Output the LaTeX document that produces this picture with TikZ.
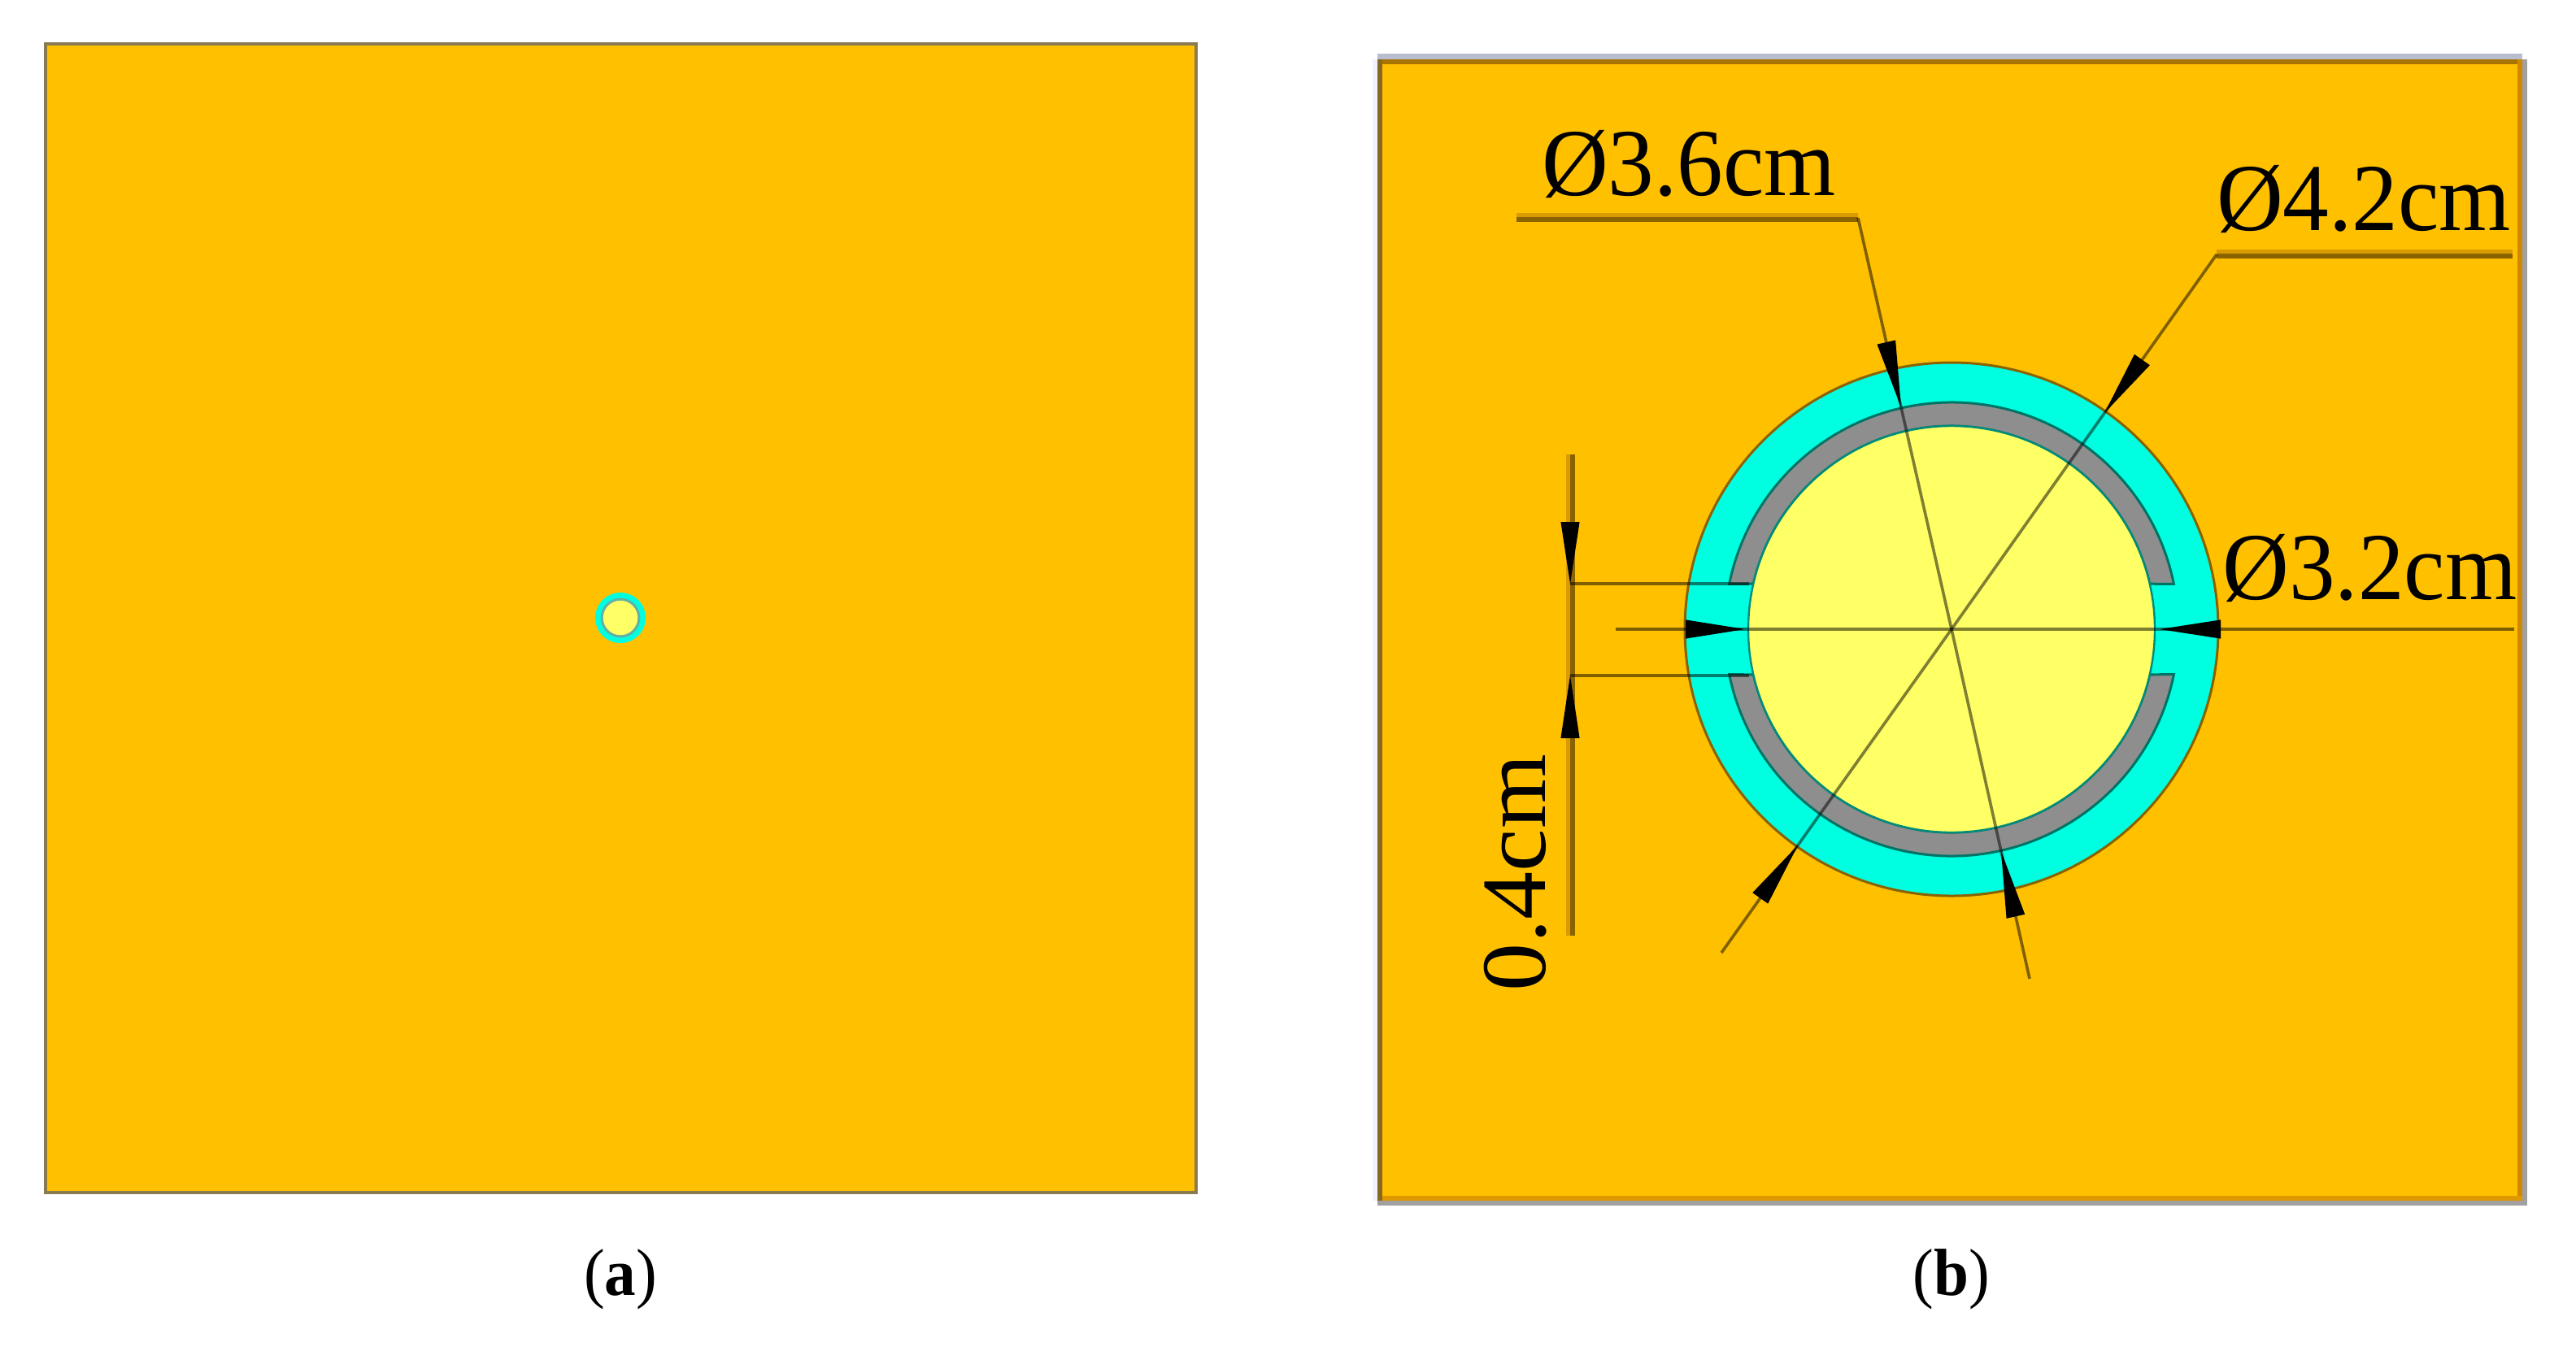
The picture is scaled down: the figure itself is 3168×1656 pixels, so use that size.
\documentclass[tikz,border=0pt]{standalone}
\usepackage{fontspec}
\setmainfont{Liberation Serif}
\usetikzlibrary{calc}
\definecolor{plate}{HTML}{FFC000}
\definecolor{ringc}{HTML}{00FFE0}
\definecolor{ringg}{HTML}{8E8E8E}
\definecolor{coreY}{HTML}{FFFF66}
\definecolor{lead}{HTML}{8A6200}
\definecolor{leadl}{HTML}{D89C00}
\definecolor{edgeA}{HTML}{8A7A50}
\definecolor{edgeB}{HTML}{B8BDCF}
\definecolor{edgeG}{HTML}{A0A0A0}
\definecolor{edgeL}{HTML}{EEF3FF}
\definecolor{edgeT}{HTML}{A87400}
\definecolor{edgeR}{HTML}{D08800}
\definecolor{edgeS}{HTML}{E09800}
\definecolor{edgeW}{HTML}{886820}
\tikzset{
  x=0.5pt,y=-0.5pt,
  leader/.style={draw=black,opacity=.5,line width=1.8pt},
  thin lead/.style={draw=black,opacity=.5,line width=1.4pt},
  wide under/.style={draw=leadl,line width=5.5pt},
  wide over/.style={draw=lead,line width=2.8pt},
  dimtext/.style={font=\fontsize{59}{60}\selectfont,inner sep=0pt,text=black,xscale=.96},
  captext/.style={font=\fontsize{41}{44}\selectfont,inner sep=0pt,text=black,xscale=.94},
  dark edge/.style={line width=1.5pt}
}
\newcommand{\dimhead}[2]{\fill[black] (#1) -- ($(#2)!5.8pt!90:(#1)$) -- ($(#2)!5.8pt!-90:(#1)$) -- cycle;}
\begin{document}
\begin{tikzpicture}
\useasboundingbox[fill=white] (0,0) rectangle (3168,1656);
% panel a
\draw[fill=plate,draw=edgeA,line width=1.6pt] (56,54) rectangle (1471,1467);
\fill[ringc] (763,760) circle[radius=15.5pt];
\fill[ringg!70!ringc] (763,760) circle[radius=12.2pt];
\fill[coreY] (763,760) circle[radius=10.6pt];
% panel b
\fill[edgeL] (1688,73) rectangle (1694,1477);
\fill[edgeB] (1694,66) rectangle (3102,73);
\fill[edgeG] (3102,73) rectangle (3108,1483);
\fill[edgeG] (1694,1477) rectangle (3108,1483);
\fill[edgeT] (1694,73) rectangle (3102,79);
\fill[edgeR] (3096,73) rectangle (3102,1477);
\fill[edgeS] (1694,1471) rectangle (3102,1477);
\fill[edgeW] (1694,73) rectangle (1700,1477);
\fill[plate] (1700,79) rectangle (3096,1471);
\begin{scope}[shift={(2400,774)},x=0.5pt,y=0.5pt]
  \draw[fill=ringc,draw=lead,dark edge] (0,0) circle[radius=164pt];
  \draw[fill=ringg,draw=black!55!ringc,dark edge]
    (11.5:279) arc[start angle=11.5,end angle=168.5,radius=139.5pt] -- (167.1:250)
    arc[start angle=167.1,end angle=12.9,radius=125pt] -- cycle;
  \draw[fill=ringg,draw=black!55!ringc,dark edge]
    (-11.5:279) arc[start angle=-11.5,end angle=-168.5,radius=139.5pt] -- (-167.1:250)
    arc[start angle=-167.1,end angle=-12.9,radius=125pt] -- cycle;
  \draw[fill=coreY,draw=black!45!ringc,line width=1.2pt] (0,0) circle[radius=125pt];
\end{scope}
% coordinates
\coordinate (c) at (2400,774);
\coordinate (a1) at (1865,268);
\coordinate (a2) at (2285,268);
\coordinate (a3) at (2496,1204);
\coordinate (b1) at (3090,313);
\coordinate (b2) at (2726,313);
\coordinate (b3) at (2117,1172);
\coordinate (h1) at (1987,774);
\coordinate (h2) at (3092,774);
\coordinate (v1) at (1931,559);
\coordinate (v2) at (1931,1151);
\coordinate (t1) at (1931,718);
\coordinate (t2) at (2151,718);
\coordinate (u1) at (1931,831);
\coordinate (u2) at (2151,831);
% thick leaders
\draw[wide under] (v1) -- (v2);
\draw[draw=lead,line width=3pt] ($(v1)+(3,0)$) -- ($(v2)+(3,0)$);
\draw[wide under] ($(a1)+(0,-1)$) -- ($(a2)+(0,-1)$);
\draw[wide over] ($(a1)+(0,2)$) -- ($(a2)+(0,2)$);
\draw[wide under] ($(b2)+(0,-1)$) -- ($(b1)+(0,-1)$);
\draw[wide over] ($(b2)+(0,2)$) -- ($(b1)+(0,2)$);
\draw[leader] (a2) -- (c) -- (a3);
\draw[leader] (b2) -- (c) -- (b3);
\draw[leader] (h1) -- (h2);
\draw[thin lead,line width=2.4pt] (t1) -- (t2);
\draw[thin lead,line width=2.4pt] (u1) -- (u2);
% arrowheads
\coordinate (p1) at ($(c)!140pt!(a2)$); \coordinate (p2) at ($(c)!181pt!(a2)$);
\coordinate (p3) at ($(c)!140pt!(a3)$); \coordinate (p4) at ($(c)!181pt!(a3)$);
\coordinate (q1) at ($(c)!163pt!(b2)$); \coordinate (q2) at ($(c)!203pt!(b2)$);
\coordinate (q3) at ($(c)!163pt!(b3)$); \coordinate (q4) at ($(c)!203pt!(b3)$);
\coordinate (r1) at (2146,774); \coordinate (r2) at (2073,774);
\coordinate (s1) at (2656,774); \coordinate (s2) at (2731,774);
\coordinate (m1) at (1931,718); \coordinate (m2) at (1931,642);
\coordinate (n1) at (1931,831); \coordinate (n2) at (1931,908);
\dimhead{p1}{p2}\dimhead{p3}{p4}\dimhead{q1}{q2}\dimhead{q3}{q4}
\dimhead{r1}{r2}\dimhead{s1}{s2}\dimhead{m1}{m2}\dimhead{n1}{n2}
% labels
\node[dimtext,anchor=base] (la) at (2077,240) {Ø3.6cm};
\node[dimtext,anchor=base] (lb) at (2907,283) {Ø4.2cm};
\node[dimtext,anchor=base west] (lc) at (2733,737) {Ø3.2cm};
\node[dimtext,anchor=base,rotate=90] (ld) at (1900,1074) {0.4cm};
\node[captext,anchor=base] (capa) at (763,1593) {(\textbf{a})};
\node[captext,anchor=base] (capb) at (2400,1593) {(\textbf{b})};
\end{tikzpicture}
\end{document}
